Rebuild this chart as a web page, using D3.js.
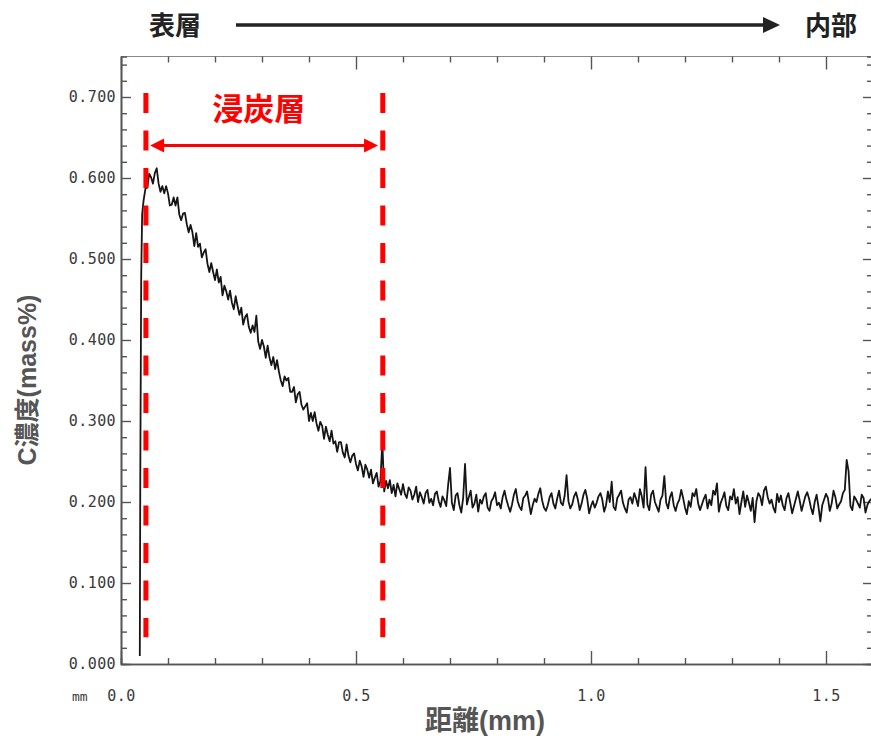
<!DOCTYPE html>
<html>
<head>
<meta charset="utf-8">
<script src="https://d3js.org/d3.v7.min.js"></script>
<style>
  body { margin: 0; background: #fff; }
  .tick text { font-family: "DejaVu Sans Mono", monospace; font-size: 15px; fill: #3a3a3a; letter-spacing: 0.4px; }
  .lbl { font-family: "Liberation Sans", "Noto Sans CJK JP", Arial, sans-serif; font-weight: bold; }
</style>
</head>
<body>
<div id="chart"></div>
<script>
// carbon profile
var riseDist = [0.040, 0.041, 0.043, 0.045];
var riseC = [0.010, 0.225, 0.480, 0.555];

var profileStart = 0.048, profileStep = 0.004;
var profileC = [
  0.572, 0.587, 0.588, 0.605, 0.601, 0.593, 0.606, 0.612, 0.593, 0.583,
  0.590, 0.581, 0.590, 0.581, 0.566, 0.567, 0.576, 0.566, 0.576, 0.555,
  0.548, 0.556, 0.557, 0.543, 0.533, 0.542, 0.533, 0.516, 0.532, 0.515,
  0.519, 0.502, 0.508, 0.512, 0.494, 0.484, 0.495, 0.484, 0.474, 0.487,
  0.471, 0.478, 0.455, 0.467, 0.460, 0.450, 0.461, 0.446, 0.438, 0.454,
  0.442, 0.431, 0.440, 0.419, 0.428, 0.432, 0.416, 0.409, 0.418, 0.410,
  0.430, 0.398, 0.389, 0.400, 0.392, 0.378, 0.393, 0.378, 0.369, 0.379,
  0.364, 0.375, 0.361, 0.350, 0.343, 0.355, 0.350, 0.353, 0.336, 0.336,
  0.342, 0.323, 0.333, 0.336, 0.320, 0.314, 0.318, 0.322, 0.300, 0.310,
  0.300, 0.311, 0.297, 0.288, 0.299, 0.294, 0.278, 0.293, 0.283, 0.275,
  0.288, 0.272, 0.275, 0.262, 0.274, 0.274, 0.261, 0.255, 0.271, 0.257,
  0.249, 0.257, 0.260, 0.247, 0.239, 0.251, 0.244, 0.231, 0.246, 0.240,
  0.230, 0.240, 0.223, 0.230, 0.236, 0.219, 0.226, 0.275, 0.213, 0.226,
  0.217, 0.227, 0.211, 0.221, 0.207, 0.223, 0.216, 0.209, 0.222, 0.210,
  0.205, 0.218, 0.214, 0.203, 0.209, 0.219, 0.200, 0.212, 0.206, 0.198,
  0.211, 0.215, 0.199, 0.204, 0.196, 0.210, 0.213, 0.201, 0.194, 0.207,
  0.202, 0.195, 0.221, 0.242, 0.199, 0.190, 0.208, 0.211, 0.196, 0.187,
  0.205, 0.247, 0.197, 0.206, 0.214, 0.193, 0.198, 0.209, 0.188, 0.203,
  0.198, 0.207, 0.211, 0.193, 0.189, 0.201, 0.205, 0.212, 0.196, 0.199,
  0.192, 0.206, 0.214, 0.203, 0.195, 0.188, 0.197, 0.209, 0.216, 0.201,
  0.194, 0.190, 0.205, 0.208, 0.213, 0.199, 0.185, 0.196, 0.204, 0.200,
  0.210, 0.217, 0.202, 0.193, 0.189, 0.196, 0.206, 0.211, 0.198, 0.192,
  0.204, 0.214, 0.199, 0.196, 0.208, 0.233, 0.201, 0.192, 0.197, 0.207,
  0.212, 0.203, 0.190, 0.198, 0.209, 0.215, 0.204, 0.186, 0.195, 0.201,
  0.193, 0.199, 0.207, 0.211, 0.203, 0.188, 0.196, 0.213, 0.200, 0.225,
  0.194, 0.190, 0.205, 0.209, 0.214, 0.199, 0.192, 0.187, 0.203, 0.206,
  0.198, 0.211, 0.204, 0.195, 0.216, 0.207, 0.193, 0.243, 0.197, 0.190,
  0.209, 0.214, 0.200, 0.194, 0.188, 0.203, 0.208, 0.232, 0.199, 0.192,
  0.206, 0.212, 0.196, 0.189, 0.198, 0.203, 0.215, 0.205, 0.193, 0.185,
  0.201, 0.194, 0.211, 0.207, 0.216, 0.198, 0.190, 0.197, 0.204, 0.209,
  0.192, 0.203, 0.196, 0.214, 0.209, 0.223, 0.188, 0.199, 0.205, 0.212,
  0.195, 0.190, 0.207, 0.203, 0.216, 0.198, 0.206, 0.185, 0.200, 0.213,
  0.194, 0.208, 0.199, 0.189, 0.205, 0.175, 0.201, 0.211, 0.207, 0.196,
  0.214, 0.219, 0.206, 0.198, 0.203, 0.193, 0.187, 0.210, 0.200, 0.208,
  0.196, 0.190, 0.205, 0.211, 0.199, 0.186, 0.195, 0.204, 0.213, 0.202,
  0.189, 0.198, 0.207, 0.212, 0.204, 0.193, 0.185, 0.200, 0.209, 0.194,
  0.176, 0.196, 0.203, 0.210, 0.205, 0.189, 0.198, 0.214, 0.206, 0.192,
  0.197, 0.201, 0.211, 0.215, 0.252, 0.238, 0.195, 0.190, 0.207, 0.203,
  0.198, 0.193, 0.209, 0.205, 0.187, 0.196, 0.201, 0.204
];

var yMajorTicks = [0.0, 0.1, 0.2, 0.3, 0.4, 0.5, 0.6, 0.7];
var yMinorTicks = [0.02, 0.04, 0.06, 0.08, 0.12, 0.14, 0.16, 0.18, 0.22, 0.24, 0.26, 0.28,
                   0.32, 0.34, 0.36, 0.38, 0.42, 0.44, 0.46, 0.48, 0.52, 0.54, 0.56, 0.58,
                   0.62, 0.64, 0.66, 0.68, 0.72, 0.74];
var xMajorTicks = [0.0, 0.5, 1.0, 1.5];
var xMinorTicks = [0.1, 0.2, 0.3, 0.4, 0.6, 0.7, 0.8, 0.9, 1.1, 1.2, 1.3, 1.4];

// carburized layer bounds (mm)
var layerDist = [0.053, 0.557];
var layerTop = 0.705, layerBottom = 0.033, layerArrowC = 0.640;
var layerArrowDist = [0.062, 0.547];
var layerLabelDist = 0.293;

var W = 871, H = 738;

var svg = d3.select("#chart").append("svg")
    .attr("width", W)
    .attr("height", H);

var x = d3.scaleLinear().domain([0, 1.6]).range([121, 873]);
var y = d3.scaleLinear().domain([0, 0.75]).range([664, 664 - 0.75 * 810]);

var axisColor = "#555";

// frame line on top
svg.append("line")
    .attr("x1", x(0)).attr("x2", W)
    .attr("y1", y(0.75)).attr("y2", y(0.75))
    .attr("stroke", "#888").attr("stroke-width", 1.2);

function styleAxis(g) {
    g.selectAll("path.domain").attr("stroke", axisColor).attr("stroke-width", 1.6);
    g.selectAll(".tick line").attr("stroke", axisColor).attr("stroke-width", 1.4);
}

// left axis
svg.append("g").attr("transform", "translate(" + x(0) + ",0)")
    .call(d3.axisLeft(y).tickValues(yMajorTicks).tickSizeInner(-10).tickSizeOuter(0)
        .tickPadding(5).tickFormat(d3.format(".3f")))
    .call(styleAxis);
svg.append("g").attr("transform", "translate(" + x(0) + ",0)")
    .call(d3.axisLeft(y).tickValues(yMinorTicks).tickSize(-6).tickFormat(""))
    .call(styleAxis);

// right axis
svg.append("g").attr("transform", "translate(" + x(1.6) + ",0)")
    .call(d3.axisRight(y).tickValues(yMajorTicks).tickSizeInner(-10).tickSizeOuter(0).tickFormat(""))
    .call(styleAxis);
svg.append("g").attr("transform", "translate(" + x(1.6) + ",0)")
    .call(d3.axisRight(y).tickValues(yMinorTicks).tickSize(-6).tickFormat(""))
    .call(styleAxis);

// bottom axis
var bottom = svg.append("g").attr("transform", "translate(0," + y(0) + ")")
    .call(d3.axisBottom(x).tickValues(xMajorTicks).tickSizeInner(-13).tickSizeOuter(0)
        .tickPadding(26).tickFormat(d3.format(".1f")))
    .call(styleAxis);
bottom.selectAll(".tick text").attr("dy", "0.71em");
svg.append("g").attr("transform", "translate(0," + y(0) + ")")
    .call(d3.axisBottom(x).tickValues(xMinorTicks).tickSize(-6).tickFormat(""))
    .call(styleAxis);

// top ticks
svg.append("g").attr("transform", "translate(0," + y(0.75) + ")")
    .call(d3.axisTop(x).tickValues(xMajorTicks).tickSizeInner(-13).tickSizeOuter(0).tickFormat(""))
    .call(styleAxis)
    .select("path.domain").remove();
svg.append("g").attr("transform", "translate(0," + y(0.75) + ")")
    .call(d3.axisTop(x).tickValues(xMinorTicks).tickSize(-6).tickFormat(""))
    .call(styleAxis)
    .select("path.domain").remove();

svg.append("text")
    .attr("x", 72).attr("y", 701)
    .style("font-family", "DejaVu Sans Mono, monospace")
    .style("font-size", "13px")
    .style("fill", "#3a3a3a")
    .text("mm");

// profile
var pts = [];
riseDist.forEach(function (d, i) { pts.push([d, riseC[i]]); });
profileC.forEach(function (c, i) { pts.push([profileStart + i * profileStep, c]); });

var line = d3.line()
    .x(function (d) { return x(d[0]); })
    .y(function (d) { return y(d[1]); });

svg.append("path")
    .datum(pts)
    .attr("d", line)
    .attr("fill", "none")
    .attr("stroke", "#151515")
    .attr("stroke-width", 1.8)
    .attr("stroke-linejoin", "round");

// red dashed layer bounds
svg.selectAll(".bound")
    .data(layerDist).enter()
    .append("line")
    .attr("class", "bound")
    .attr("x1", function (d) { return x(d); })
    .attr("x2", function (d) { return x(d); })
    .attr("y1", y(layerTop))
    .attr("y2", y(layerBottom))
    .attr("stroke", "#ff0000")
    .attr("stroke-width", 5)
    .attr("stroke-dasharray", "20,17.5");

// double arrow
var ax0 = x(layerArrowDist[0]), ax1 = x(layerArrowDist[1]), ay = y(layerArrowC);
svg.append("line")
    .attr("x1", ax0 + 10).attr("x2", ax1 - 10)
    .attr("y1", ay).attr("y2", ay)
    .attr("stroke", "#ff0000").attr("stroke-width", 3);
svg.append("path")
    .attr("d", "M" + ax0 + "," + ay + "L" + (ax0 + 14) + "," + (ay - 7) + "L" + (ax0 + 14) + "," + (ay + 7) + "Z")
    .attr("fill", "#ff0000");
svg.append("path")
    .attr("d", "M" + ax1 + "," + ay + "L" + (ax1 - 14) + "," + (ay - 7) + "L" + (ax1 - 14) + "," + (ay + 7) + "Z")
    .attr("fill", "#ff0000");

svg.append("text")
    .attr("class", "lbl")
    .attr("x", x(layerLabelDist))
    .attr("y", 120)
    .attr("text-anchor", "middle")
    .style("font-size", "31px")
    .style("fill", "#ff0000")
    .text("浸炭層");

// header: surface -> inside
svg.append("text")
    .attr("class", "lbl")
    .attr("x", 175).attr("y", 35)
    .attr("text-anchor", "middle")
    .style("font-size", "26px")
    .style("fill", "#222")
    .text("表層");
svg.append("text")
    .attr("class", "lbl")
    .attr("x", 831).attr("y", 35)
    .attr("text-anchor", "middle")
    .style("font-size", "26px")
    .style("fill", "#222")
    .text("内部");
svg.append("line")
    .attr("x1", 236).attr("x2", 766)
    .attr("y1", 25).attr("y2", 25)
    .attr("stroke", "#222").attr("stroke-width", 3.5);
svg.append("path")
    .attr("d", "M780,25L763,17L763,33Z")
    .attr("fill", "#222");

// axis titles
svg.append("text")
    .attr("class", "lbl")
    .attr("transform", "translate(36,380) rotate(-90)")
    .attr("text-anchor", "middle")
    .style("font-size", "25px")
    .style("fill", "#555")
    .text("C濃度(mass%)");

svg.append("text")
    .attr("class", "lbl")
    .attr("x", 485).attr("y", 730)
    .attr("text-anchor", "middle")
    .style("font-size", "27px")
    .style("fill", "#555")
    .text("距離(mm)");
</script>
</body>
</html>
